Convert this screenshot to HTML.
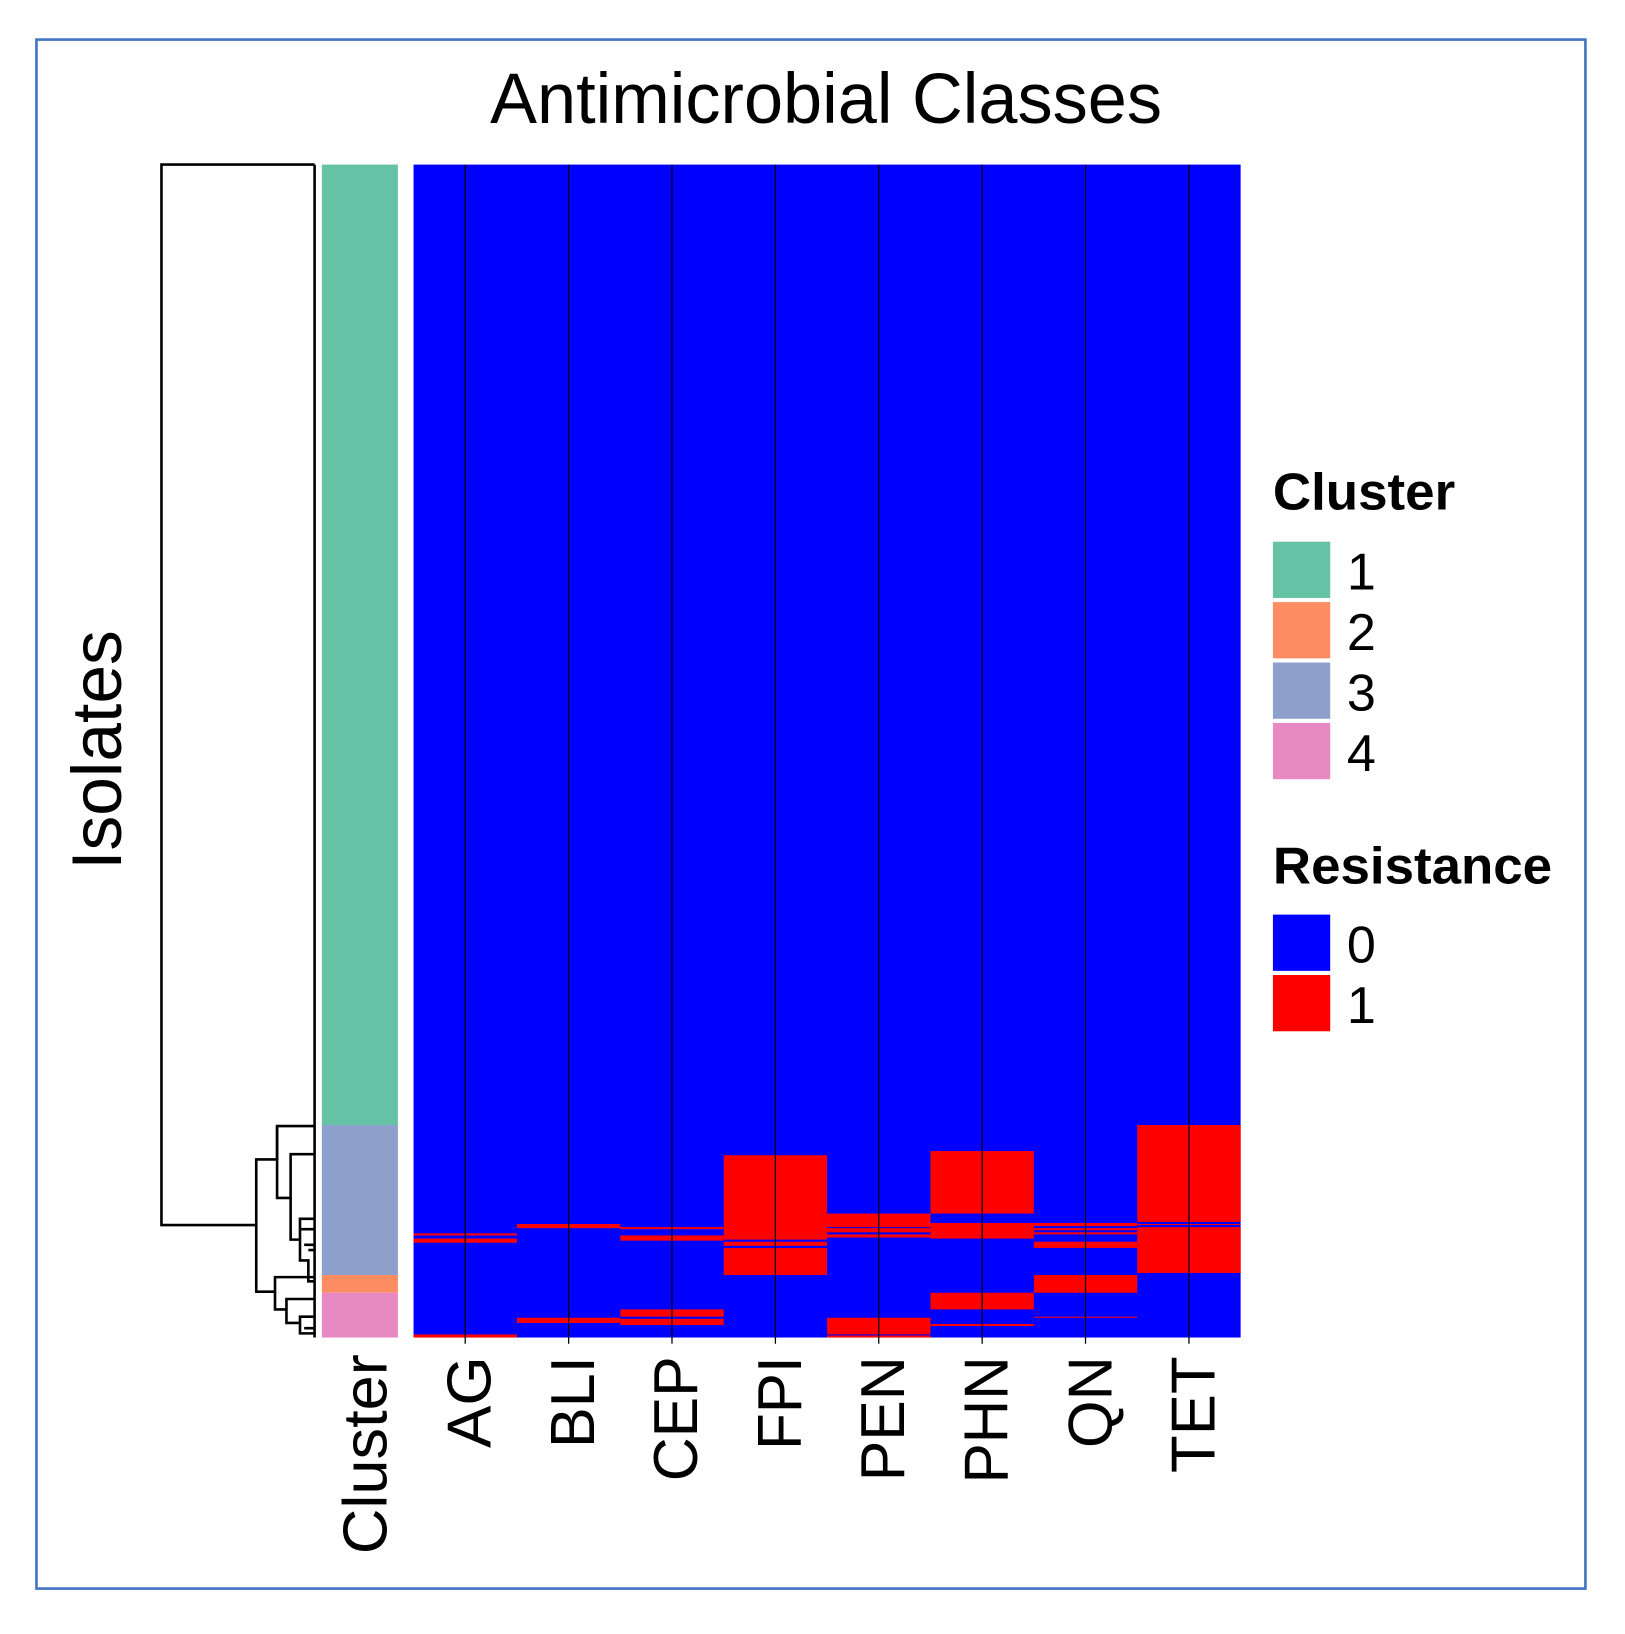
<!DOCTYPE html>
<html><head><meta charset="utf-8"><style>html,body{margin:0;padding:0;background:#fff}svg{display:block}</style></head>
<body>
<svg width="1625" height="1634" viewBox="0 0 1560 1568.6" preserveAspectRatio="none" xmlns="http://www.w3.org/2000/svg" font-family="Liberation Sans, Arial, sans-serif">
<rect x="35" y="38" width="1487" height="1487" fill="#fff" stroke="#4472C4" stroke-width="2.5"/>
<text x="793" y="118" font-size="69" text-anchor="middle" textLength="645" lengthAdjust="spacingAndGlyphs">Antimicrobial Classes</text>
<text transform="translate(116,720) rotate(-90)" font-size="68" text-anchor="middle" textLength="230" lengthAdjust="spacingAndGlyphs">Isolates</text>
<!-- cluster bar -->
<rect x="309" y="158" width="73" height="922" fill="#66C2A5"/>
<rect x="309" y="1080" width="73" height="144" fill="#8DA0CB"/>
<rect x="309" y="1224" width="73" height="17" fill="#FC8D62"/>
<rect x="309" y="1241" width="73" height="43" fill="#E78AC3"/>
<!-- heatmap -->
<rect x="397" y="158" width="794" height="1126" fill="#0000FF"/>
<g fill="#FF0000">
<rect x="397" y="1184" width="99.25" height="2"/><rect x="397" y="1189" width="99.25" height="4"/><rect x="397" y="1281" width="99.25" height="3"/>
<rect x="496.25" y="1175" width="99.25" height="4"/><rect x="496.25" y="1265" width="99.25" height="5"/>
<rect x="595.5" y="1178" width="99.25" height="2"/><rect x="595.5" y="1186" width="99.25" height="5"/><rect x="595.5" y="1257" width="99.25" height="7"/><rect x="595.5" y="1266" width="99.25" height="6"/>
<rect x="694.75" y="1109" width="99.25" height="81"/><rect x="694.75" y="1192" width="99.25" height="4"/><rect x="694.75" y="1198" width="99.25" height="26"/>
<rect x="794" y="1165" width="99.25" height="13"/><rect x="794" y="1179" width="99.25" height="4"/><rect x="794" y="1185" width="99.25" height="3"/><rect x="794" y="1265" width="99.25" height="16"/><rect x="794" y="1282" width="99.25" height="2"/>
<rect x="893.25" y="1105" width="99.25" height="60"/><rect x="893.25" y="1174" width="99.25" height="15"/><rect x="893.25" y="1241" width="99.25" height="16"/><rect x="893.25" y="1271" width="99.25" height="2"/>
<rect x="992.5" y="1174" width="99.25" height="3"/><rect x="992.5" y="1179" width="99.25" height="2"/><rect x="992.5" y="1183" width="99.25" height="2"/><rect x="992.5" y="1192" width="99.25" height="6"/><rect x="992.5" y="1224" width="99.25" height="17"/><rect x="992.5" y="1264" width="99.25" height="1"/>
<rect x="1091.75" y="1080" width="99.25" height="93"/><rect x="1091.75" y="1175" width="99.25" height="1"/><rect x="1091.75" y="1178" width="99.25" height="44"/>
</g>
<g stroke="#000" stroke-width="1.2">
<line x1="446.6" y1="158" x2="446.6" y2="1290"/><line x1="545.9" y1="158" x2="545.9" y2="1290"/>
<line x1="645.1" y1="158" x2="645.1" y2="1290"/><line x1="744.4" y1="158" x2="744.4" y2="1290"/>
<line x1="843.6" y1="158" x2="843.6" y2="1290"/><line x1="942.9" y1="158" x2="942.9" y2="1290"/>
<line x1="1042.1" y1="158" x2="1042.1" y2="1290"/><line x1="1141.4" y1="158" x2="1141.4" y2="1290"/>
</g>
<g fill="none" stroke="#000" stroke-width="2.5">
<path d="M302 158 H155 V1176 H246"/>
<line x1="302" y1="158" x2="302" y2="1284"/>
<path d="M246 1176 V1113 H266 V1081 H302"/>
<path d="M246 1176 V1240 H264 V1226 H302"/>
<path d="M266 1081 V1150 H279 V1108 H302"/>
<path d="M279 1150 V1190 H288 V1170 H302 M288 1190 V1210 H296 V1230 H302 M296 1200 H302 M288 1180 H302 M292 1195 H302"/>
<path d="M264 1240 V1257 H275 V1247 H302 M275 1257 V1270 H288 V1264 H302 M288 1270 V1280 H302 M292 1275 H302"/>
</g>
<g font-size="60" text-anchor="end" lengthAdjust="spacingAndGlyphs">
<text transform="translate(371,1300) rotate(-90)" textLength="192" lengthAdjust="spacingAndGlyphs">Cluster</text>
<text transform="translate(471,1302) rotate(-90)" textLength="88" lengthAdjust="spacingAndGlyphs">AG</text>
<text transform="translate(570,1302) rotate(-90)" textLength="88" lengthAdjust="spacingAndGlyphs">BLI</text>
<text transform="translate(669,1302) rotate(-90)" textLength="120" lengthAdjust="spacingAndGlyphs">CEP</text>
<text transform="translate(769,1302) rotate(-90)" textLength="90" lengthAdjust="spacingAndGlyphs">FPI</text>
<text transform="translate(868,1302) rotate(-90)" textLength="120" lengthAdjust="spacingAndGlyphs">PEN</text>
<text transform="translate(967,1302) rotate(-90)" textLength="122" lengthAdjust="spacingAndGlyphs">PHN</text>
<text transform="translate(1067,1302) rotate(-90)" textLength="88" lengthAdjust="spacingAndGlyphs">QN</text>
<text transform="translate(1166,1302) rotate(-90)" textLength="112" lengthAdjust="spacingAndGlyphs">TET</text>
</g>
<text x="1222" y="489" font-size="50" font-weight="bold" textLength="175" lengthAdjust="spacingAndGlyphs">Cluster</text>
<rect x="1222" y="520" width="55" height="54" fill="#66C2A5"/>
<rect x="1222" y="578" width="55" height="54" fill="#FC8D62"/>
<rect x="1222" y="636" width="55" height="54" fill="#8DA0CB"/>
<rect x="1222" y="694" width="55" height="54" fill="#E78AC3"/>
<g font-size="50"><text x="1293" y="566">1</text><text x="1293" y="624">2</text><text x="1293" y="682">3</text><text x="1293" y="740">4</text></g>
<text x="1222" y="848" font-size="50" font-weight="bold" textLength="268" lengthAdjust="spacingAndGlyphs">Resistance</text>
<rect x="1222" y="878" width="55" height="54" fill="#0000FF"/>
<rect x="1222" y="936" width="55" height="54" fill="#FF0000"/>
<g font-size="50"><text x="1293" y="924">0</text><text x="1293" y="982">1</text></g>
</svg>
</body></html>
